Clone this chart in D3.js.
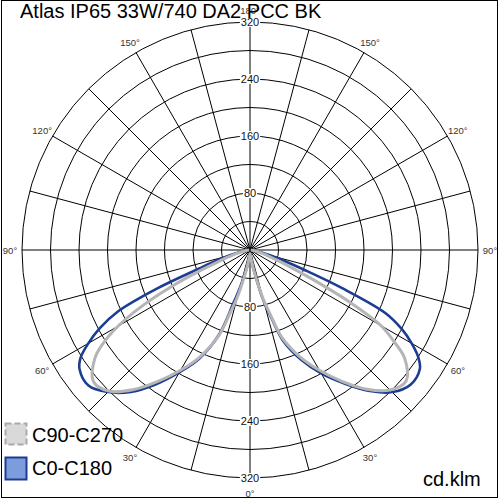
<!DOCTYPE html>
<html><head><meta charset="utf-8">
<script src="https://cdn.jsdelivr.net/npm/d3@7"></script>
<style>body{margin:0;background:#fff}svg{display:block}</style>
</head><body>
<svg id="c" width="500" height="500"></svg>
<script>
const title = "Atlas IP65 33W/740 DA2 PCC BK";
const unitLabel = "cd.klm";
const gammas = [0,5,10,15,17.5,20,25,30,35,40,45,50,55,57.5,60,62.5,65,67.5,70,72.5,75,80,85,90];
const c0   = [5,10,25,75,100,135,170,200,228,258,282,294,291,280,262,240,210,140,80,50,30,12,5,2];
const c180 = [5,10,25,55,80,125,168,198,230,260,282,296,292,282,262,238,205,140,75,48,30,12,5,2];
const c90  = [5,10,25,70,95,130,165,195,225,255,278,286,265,240,212,155,95,58,36,25,18,8,3,1];
const c270 = [5,10,25,68,92,128,165,195,225,256,280,287,266,245,214,172,122,75,45,30,20,8,3,1];
const ringValues = [40,80,120,160,200,240,280,320];
const ringLabels = [80,160,240,320];
const angleLabels = [0,30,60,90,120,150,180];
const spokes = d3.range(0,360,15);
const legendNames = ["C90-C270","C0-C180"];

const svg = d3.select("#c");
const cx = 250, cy = 250;
const r = d3.scaleLinear().domain([0,320]).range([0,228]);
const toRad = d => d*Math.PI/180;

svg.append("rect").attr("x",1.5).attr("y",0.5).attr("width",496).attr("height",497)
  .attr("fill","#fff").attr("stroke","#000");

const g = svg.append("g").attr("transform",`translate(${cx},${cy})`);
// rings
g.selectAll("circle.ring").data(ringValues).join("circle").attr("class","ring")
  .attr("r",d=>r(d)).attr("fill","none").attr("stroke","#000").attr("stroke-width",1);
// spokes
g.selectAll("line.sp").data(spokes).join("line").attr("class","sp")
  .attr("x1",0).attr("y1",0)
  .attr("x2",d=>r(320)*Math.sin(toRad(d)))
  .attr("y2",d=>r(320)*Math.cos(toRad(d)))
  .attr("stroke","#000").attr("stroke-width",1);

// curves: lineRadial angle clockwise from top; gamma from bottom
function curveData(left, right){
  const pts = [];
  for(let i=gammas.length-1;i>=0;i--) pts.push([Math.PI+toRad(gammas[i]), r(left[i])]);
  for(let i=1;i<gammas.length;i++) pts.push([Math.PI-toRad(gammas[i]), r(right[i])]);
  return pts;
}
const line = d3.lineRadial().angle(d=>d[0]).radius(d=>d[1]).curve(d3.curveCatmullRom);
g.append("path").attr("d",line(curveData(c180,c0))).attr("fill","none")
  .attr("stroke","#1c3d92").attr("stroke-width",2.6).attr("stroke-linejoin","round");
g.append("path").attr("d",line(curveData(c270,c90))).attr("fill","none")
  .attr("stroke","#b5b5b5").attr("stroke-width",3).attr("stroke-linejoin","round");

// ring labels on vertical axis
[-1,1].forEach(s=>{
  ringLabels.forEach(v=>{
    const y = s*r(v);
    const t = g.append("text").attr("x",0).attr("y",y).attr("text-anchor","middle")
      .attr("dominant-baseline","central").attr("font-family","Liberation Sans, Arial, sans-serif")
      .attr("font-size",11).attr("fill","#111").text(v);
    const bb = t.node().getBBox();
    g.insert("rect","text").attr("x",bb.x-1).attr("y",bb.y+1).attr("width",bb.width+2).attr("height",bb.height-2).attr("fill","#fff");
  });
});
// angle labels
const angFont = "Liberation Sans, Arial, sans-serif";
angleLabels.forEach(a=>{
  const sides = (a===0||a===180)?[1]:[-1,1];
  sides.forEach(s=>{
    g.append("text").attr("x",s*240*Math.sin(toRad(a))).attr("y",240*Math.cos(toRad(a))+ (a===0?3:0))
      .attr("text-anchor","middle").attr("dominant-baseline","central")
      .attr("font-family",angFont).attr("font-size",9.5).attr("fill","#333").text(a+"°");
  });
});

// title
svg.append("text").attr("x",20).attr("y",18).attr("font-family","Liberation Sans, Arial, sans-serif")
  .attr("font-size",20).attr("fill","#000").text(title);
// unit
svg.append("text").attr("x",423).attr("y",486).attr("font-family","Liberation Sans, Arial, sans-serif")
  .attr("font-size",20).attr("fill","#000").text(unitLabel);
// legend
const leg = svg.append("g");
leg.append("rect").attr("x",5.5).attr("y",423.5).attr("width",21).attr("height",21)
  .attr("fill","#d9d9d9").attr("stroke","#aaa").attr("stroke-width",2).attr("stroke-dasharray","6,3");
leg.append("rect").attr("x",5.5).attr("y",457.5).attr("width",21).attr("height",22)
  .attr("fill","#7c9cdc").attr("stroke","#1c3d92").attr("stroke-width",2);
leg.selectAll("text").data(legendNames).join("text")
  .attr("x",32).attr("y",(d,i)=>442+i*33).attr("font-family","Liberation Sans, Arial, sans-serif")
  .attr("font-size",20).attr("fill","#000").text(d=>d);
</script>
</body></html>
